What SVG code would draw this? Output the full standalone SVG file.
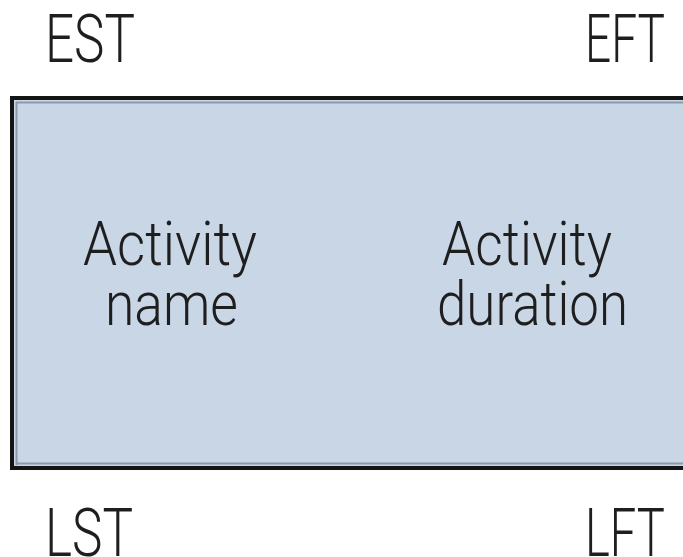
<svg xmlns="http://www.w3.org/2000/svg" width="683" height="557" viewBox="0 0 683 557">
  <style>
    .lbl { font-family: Roboto, "Liberation Sans", Arial, sans-serif; font-weight: 300; fill: #1e1e1e; }
    .corner { font-size: 66px; }
    .mid { font-size: 62px; }
  </style>
  <rect width="683" height="557" fill="#ffffff"/>

  <!-- Activity node box -->
  <g id="activity-node">
    <rect x="12" y="98" width="690" height="370" fill="#c9d6e6" stroke="#141414" stroke-width="4"/>
    <path d="M16 102.5 H683 M16.5 102 V465 M16 463.5 H683" fill="none" stroke="#8d99a8" stroke-width="2"/>
    <text class="lbl mid" x="83" y="265" textLength="174" lengthAdjust="spacingAndGlyphs">Activity</text>
    <text class="lbl mid" x="105" y="325" textLength="133" lengthAdjust="spacingAndGlyphs">name</text>
    <text class="lbl mid" x="442" y="265" textLength="170" lengthAdjust="spacingAndGlyphs">Activity</text>
    <text class="lbl mid" x="437" y="325" textLength="191" lengthAdjust="spacingAndGlyphs">duration</text>
  </g>

  <!-- Corner time labels -->
  <g id="est"><text class="lbl corner" x="45" y="62" textLength="90" lengthAdjust="spacingAndGlyphs">EST</text></g>
  <g id="eft"><text class="lbl corner" x="585" y="62" textLength="80" lengthAdjust="spacingAndGlyphs">EFT</text></g>
  <g id="lst"><text class="lbl corner" x="45" y="556" textLength="88" lengthAdjust="spacingAndGlyphs">LST</text></g>
  <g id="lft"><text class="lbl corner" x="585" y="556" textLength="80" lengthAdjust="spacingAndGlyphs">LFT</text></g>

  <g id="connectors"/>
</svg>
